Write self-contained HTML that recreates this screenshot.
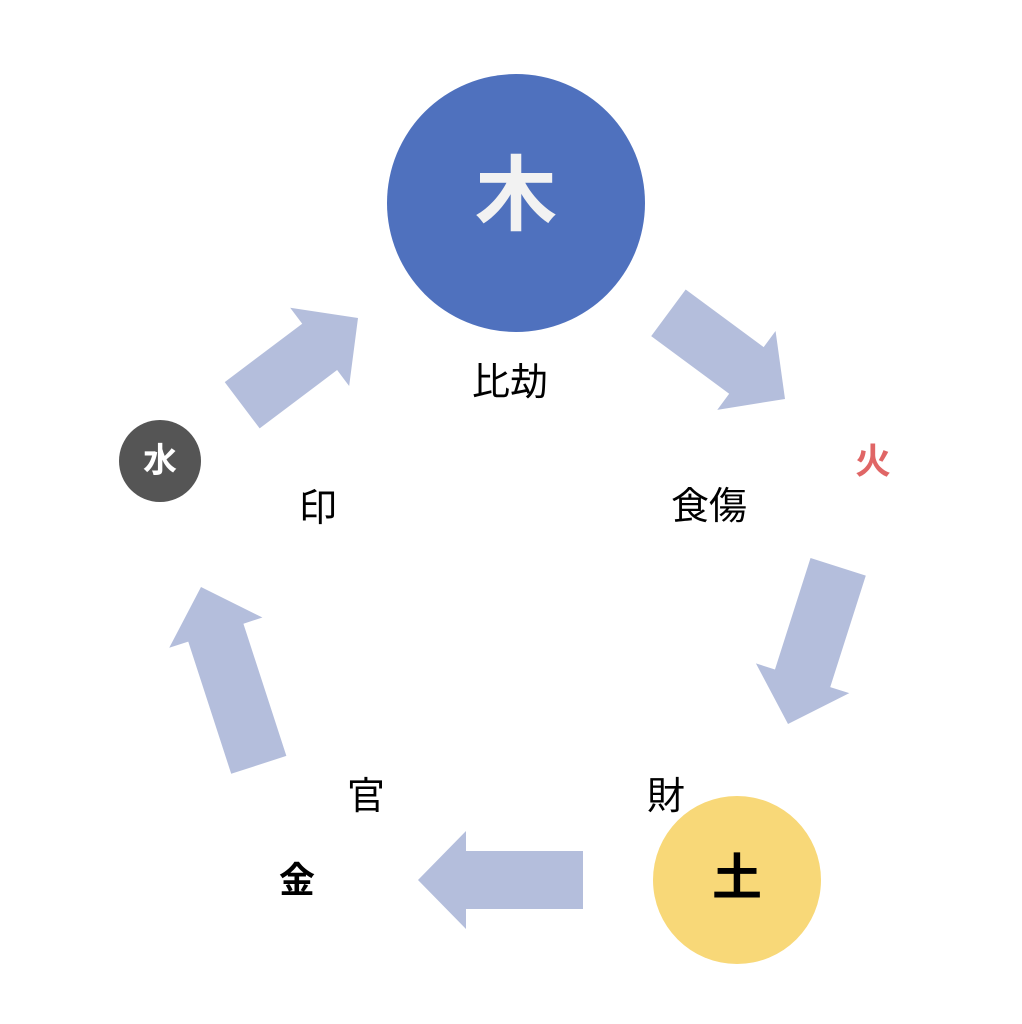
<!DOCTYPE html>
<html><head><meta charset="utf-8"><style>
html,body{margin:0;padding:0;background:#fff;}
svg{display:block;}
text{font-family:"Liberation Sans","Noto Sans CJK JP",sans-serif;}
</style></head><body>
<svg width="1022" height="1024" viewBox="0 0 1022 1024" xmlns="http://www.w3.org/2000/svg">
<g fill="#b4bedc">
<polygon transform="translate(358,318) rotate(-37)" points="0,0 -48,-49 -48,-29 -145,-29 -145,29 -48,29 -48,49"/>
<polygon transform="translate(785,399) rotate(36.5)" points="0,0 -48,-49 -48,-29 -145,-29 -145,29 -48,29 -48,49"/>
<polygon transform="translate(788,724) rotate(107.7)" points="0,0 -48,-49 -48,-29 -165,-29 -165,29 -48,29 -48,49"/>
<polygon transform="translate(418,880) rotate(180)" points="0,0 -48,-49 -48,-29 -165,-29 -165,29 -48,29 -48,49"/>
<polygon transform="translate(201,587) rotate(-108)" points="0,0 -48,-49 -48,-29 -187,-29 -187,29 -48,29 -48,49"/>
</g>
<circle cx="516" cy="203" r="129" fill="#4f71be"/>
<circle cx="160" cy="461" r="41" fill="#555555"/>
<circle cx="737" cy="880" r="84" fill="#f8d878"/>
<g text-anchor="middle" dominant-baseline="central">
<text x="516" y="196" font-size="82" font-weight="bold" fill="#f2f2f2">木</text>
<text x="160" y="461" font-size="34" font-weight="bold" fill="#fff">水</text>
<text x="737" y="878" font-size="50" font-weight="bold" fill="#000">土</text>
<text x="297" y="880" font-size="36" font-weight="bold" fill="#000">金</text>
<text x="873" y="461" font-size="36" font-weight="bold" fill="#e06666">火</text>
<text x="510" y="383" font-size="38" fill="#000">比劫</text>
<text x="709" y="507" font-size="38" fill="#000">食傷</text>
<text x="318" y="509" font-size="38" fill="#000">印</text>
<text x="366" y="797" font-size="38" fill="#000">官</text>
<text x="666" y="797" font-size="38" fill="#000">財</text>
</g>
</svg>
</body></html>
